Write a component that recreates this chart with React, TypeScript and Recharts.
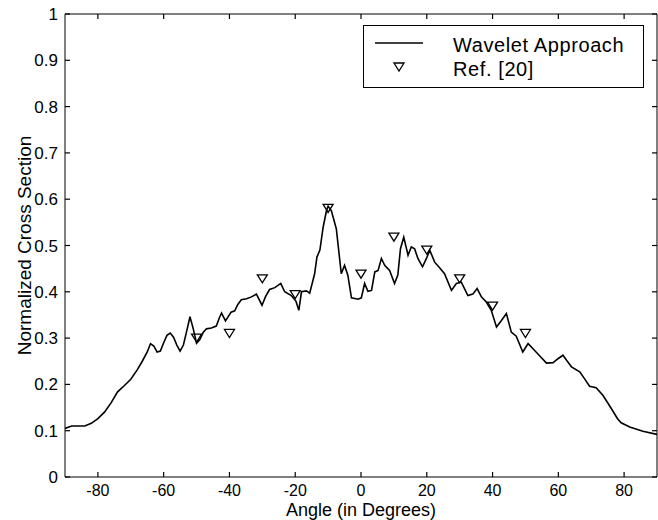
import React from 'react'
import { ComposedChart, Line, Scatter, XAxis, YAxis, Legend, ReferenceLine } from 'recharts'

// wavelet approach curve (angle in degrees, normalized cross section)
const curveAngles = [
  -90, -88, -84, -82, -80, -78, -76, -74, -72, -70, -68, -66.5, -65, -64, -63, -62, -61, -60, -59, -58,
  -57, -56, -55, -54, -53, -52, -51, -50, -49, -48, -47, -45.5, -44, -43, -42.4, -41.2, -39.5, -38.4, -37.5, -36.4,
  -34.8, -33.3, -31.8, -30.1, -29, -27.8, -26.2, -24.4, -23.2, -21.2, -19.8, -18.9, -18.1, -16.6, -15.6, -14.1, -13.4, -12.5, -11.5, -10.5,
  -10, -9, -7.5, -6, -5, -4, -2.9, -0.9, 0.1, 1.1, 2.1, 3.2, 4.2, 5.2, 6.2, 7.2, 8.7, 10.2, 11.2, 12,
  13, 14.3, 15.3, 16.3, 17.3, 18.7, 19.9, 20.9, 22.4, 23.9, 25.4, 27.5, 29, 30.5, 32.5, 34, 35.3, 36.6, 38.1, 39.6,
  41.2, 42.7, 44.2, 45.7, 47.2, 49.2, 50.8, 52.3, 54.3, 56.4, 58.4, 60, 61.4, 62.5, 64, 66.5, 68, 69.5, 71.5, 73.6,
  76.1, 78, 79.1, 81.7, 85.7, 90,
]
const curveValues = [
  0.105, 0.11, 0.11, 0.116, 0.126, 0.14, 0.16, 0.184, 0.197, 0.211, 0.232, 0.25, 0.27, 0.288, 0.283, 0.27, 0.272, 0.29, 0.306, 0.311,
  0.302, 0.285, 0.272, 0.285, 0.315, 0.346, 0.32, 0.289, 0.297, 0.312, 0.32, 0.322, 0.326, 0.345, 0.354, 0.337, 0.356, 0.359, 0.372, 0.383,
  0.385, 0.389, 0.395, 0.371, 0.39, 0.405, 0.409, 0.418, 0.4, 0.392, 0.38, 0.36, 0.4, 0.402, 0.397, 0.439, 0.475, 0.49, 0.54, 0.575,
  0.585, 0.575, 0.536, 0.439, 0.457, 0.436, 0.387, 0.384, 0.387, 0.418, 0.401, 0.403, 0.443, 0.446, 0.472, 0.457, 0.446, 0.418, 0.436, 0.493,
  0.518, 0.479, 0.497, 0.493, 0.472, 0.454, 0.472, 0.49, 0.464, 0.452, 0.439, 0.403, 0.418, 0.421, 0.392, 0.395, 0.407, 0.389, 0.378, 0.36,
  0.324, 0.338, 0.353, 0.313, 0.304, 0.27, 0.288, 0.277, 0.262, 0.246, 0.247, 0.256, 0.263, 0.252, 0.238, 0.227, 0.212, 0.196, 0.193, 0.176,
  0.148, 0.126, 0.117, 0.108, 0.099, 0.092,
]

// Ref. [20] markers
const refAngles = [-50, -40, -30, -20, -10, 0, 10, 20, 30, 40, 50]
const refValues = [0.3, 0.31, 0.428, 0.394, 0.58, 0.438, 0.518, 0.49, 0.428, 0.369, 0.31]

const xTicks = [-80, -60, -40, -20, 0, 20, 40, 60, 80]
const yTicks = [0, 0.1, 0.2, 0.3, 0.4, 0.5, 0.6, 0.7, 0.8, 0.9, 1]

const curveData = curveAngles.map((x, i) => ({ x, y: curveValues[i] }))
const refData = refAngles.map((x, i) => ({ x, y: refValues[i] }))

const font = '"Liberation Sans", Arial, Helvetica, sans-serif'

// plot box (from chart margins + axis sizes)
const W = 658
const H = 520
const M = { top: 14, right: 1, left: 0, bottom: 0 }
const Y_AXIS_W = 65
const X_AXIS_H = 43
const PLOT_TOP = M.top
const PLOT_BOTTOM = H - M.bottom - X_AXIS_H
const PLOT_LEFT = M.left + Y_AXIS_W
const PLOT_RIGHT = W - M.right
const TICK = 5

// MATLAB style: ticks point inward, on all four sides
const XTick = (props: any) => {
  const { x, payload } = props
  return (
    <g>
      <line x1={x} y1={PLOT_BOTTOM} x2={x} y2={PLOT_BOTTOM - TICK} stroke="#000" strokeWidth={1.2} />
      <line x1={x} y1={PLOT_TOP} x2={x} y2={PLOT_TOP + TICK} stroke="#000" strokeWidth={1.2} />
      <text x={x} y={PLOT_BOTTOM + 19} textAnchor="middle" fontSize={16} fontFamily={font} fill="#000">
        {payload.value}
      </text>
    </g>
  )
}

const YTick = (props: any) => {
  const { y, payload } = props
  return (
    <g>
      <line x1={PLOT_LEFT} y1={y} x2={PLOT_LEFT + TICK} y2={y} stroke="#000" strokeWidth={1.2} />
      <line x1={PLOT_RIGHT} y1={y} x2={PLOT_RIGHT - TICK} y2={y} stroke="#000" strokeWidth={1.2} />
      <text x={PLOT_LEFT - 7} y={y + 6} textAnchor="end" fontSize={17} fontFamily={font} fill="#000">
        {payload.value}
      </text>
    </g>
  )
}

const Triangle = (props: any) => {
  const { cx, cy } = props
  if (cx == null || cy == null) return null
  return (
    <path
      d={`M${cx - 5},${cy - 4} L${cx + 5},${cy - 4} L${cx},${cy + 4} Z`}
      fill="none"
      stroke="#000"
      strokeWidth={1.3}
    />
  )
}

const LegendBox = () => (
  <svg width={281} height={63} style={{ display: 'block' }}>
    <rect x={0.5} y={0.5} width={280} height={62} fill="#fff" stroke="#000" strokeWidth={1} />
    <line x1={12} y1={18} x2={60} y2={18} stroke="#000" strokeWidth={1.5} />
    <path d="M31,38 L41,38 L36,46 Z" fill="none" stroke="#000" strokeWidth={1.3} />
    <text x={90} y={27} fontSize={20} letterSpacing={0.6} fontFamily={font} fill="#000">Wavelet Approach</text>
    <text x={90} y={51} fontSize={20} letterSpacing={0.6} fontFamily={font} fill="#000">Ref. [20]</text>
  </svg>
)

const App = () => {
  return (
    <div style={{ position: 'absolute', left: 0, top: 0, background: '#fff' }}>
      <ComposedChart width={W} height={H} margin={M}>
        <XAxis
          dataKey="x"
          type="number"
          domain={[-90, 90]}
          ticks={xTicks}
          allowDataOverflow
          height={X_AXIS_H}
          stroke="#000"
          tickLine={false}
          tickSize={0}
          tick={<XTick />}
          label={{ value: 'Angle (in Degrees)', position: 'insideBottom', offset: 4, fill: '#000', fontSize: 18, fontFamily: font }}
        />
        <YAxis
          type="number"
          domain={[0, 1]}
          ticks={yTicks}
          allowDataOverflow
          width={Y_AXIS_W}
          stroke="#000"
          tickLine={false}
          tickSize={0}
          tick={<YTick />}
          label={{ value: 'Normalized Cross Section', angle: -90, position: 'insideLeft', offset: 24, fill: '#000', fontSize: 19, fontFamily: font, style: { textAnchor: 'middle' } }}
        />
        <ReferenceLine y={1} stroke="#000" />
        <ReferenceLine x={90} stroke="#000" />
        <Legend
          layout="horizontal"
          verticalAlign="middle"
          align="center"
          wrapperStyle={{ left: 363, top: 25, width: 281, height: 63 }}
          content={() => <LegendBox />}
        />
        <Line
          data={curveData}
          dataKey="y"
          type="linear"
          stroke="#000"
          strokeWidth={1.6}
          dot={false}
          isAnimationActive={false}
          name="Wavelet Approach"
        />
        <Scatter
          data={refData}
          dataKey="y"
          shape={<Triangle />}
          isAnimationActive={false}
          name="Ref. [20]"
        />
      </ComposedChart>
    </div>
  )
}

export default App
